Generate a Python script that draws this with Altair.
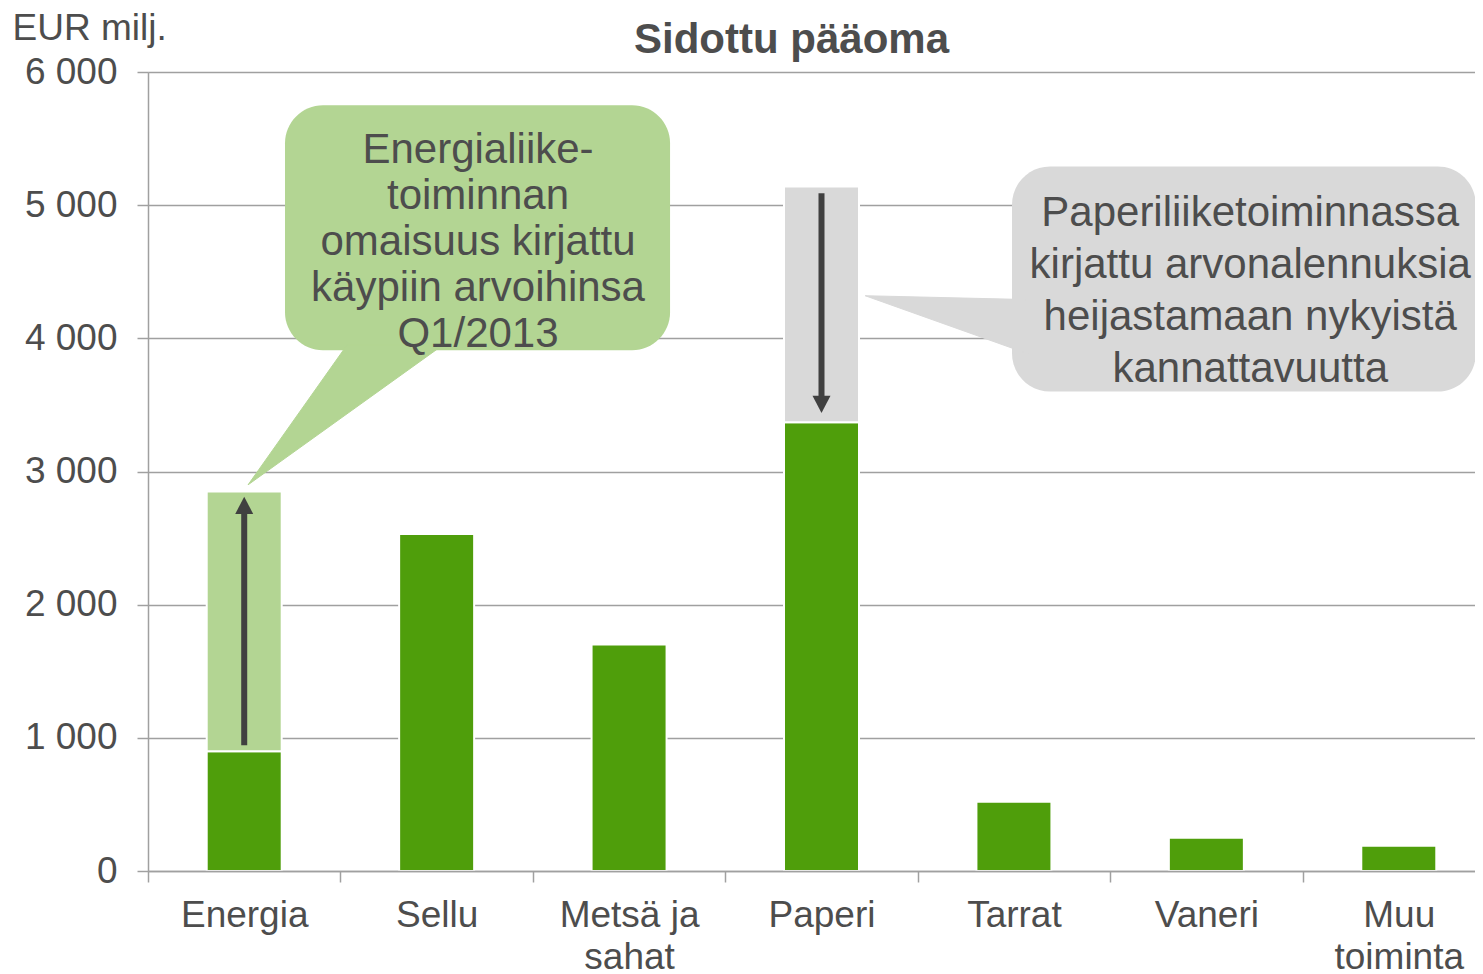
import altair as alt
import pandas as pd

# ---------------- data ----------------
categories = ["Energia", "Sellu", "Metsä ja\nsahat", "Paperi", "Tarrat", "Vaneri", "Muu\ntoiminta"]
base_values = [900, 2530, 1700, 3370, 520, 250, 190]

extra_cats = ["Energia", "Paperi"]
extra_low = [900, 3370]
extra_high = [2850, 5140]
extra_kind = ["uplift", "impairment"]

arrow_cats = ["Energia", "Paperi"]
arrow_from = [945, 5090]
arrow_to = [2810, 3440]
arrow_dir = ["up", "down"]

# callout boxes (x in category-band units 0..7, y in EUR milj.)
green_box_x = [0.712, 2.713]
green_box_y = [3910, 5750]
gray_box_x = [4.49, 6.90]
gray_box_y = [3600, 5290]
green_ptr_x = [0.52, 1.034, 1.533]
green_ptr_y = [2900, 3950, 3950]
gray_ptr_x = [3.727, 4.60, 4.60]
gray_ptr_y = [4320, 4290, 3870]
green_text_pos = [1.715, 5415]
gray_text_pos = [5.728, 4940]
green_lines = ["Energialiike-", "toiminnan", "omaisuus kirjattu", "käypiin arvoihinsa", "Q1/2013"]
gray_lines = ["Paperiliiketoiminnassa", "kirjattu arvonalennuksia", "heijastamaan nykyistä", "kannattavuutta"]

# ---------------- styles ----------------
DARK = "#4F9E0B"
LIGHT = "#B3D593"
GRAY = "#D9D9D9"
ARROW = "#404040"
TEXT = "#4D4D4D"
AXIS = "#A0A0A0"
FONT = "Liberation Sans"

W, H = 1327, 799
RANGE = 1347

bars = pd.DataFrame({
    "cat": categories + extra_cats,
    "low": [0] * len(categories) + extra_low,
    "high": base_values + extra_high,
    "kind": ["base"] * len(categories) + extra_kind,
})

arrows = pd.DataFrame({
    "cat": arrow_cats,
    "start": arrow_from,
    "tip": arrow_to,
    "dir": arrow_dir,
})
arrows["shaft_end"] = [t - 60 if d == "up" else t + 60 for t, d in zip(arrows["tip"], arrows["dir"])]

yscale = alt.Scale(domain=[0, 6000], nice=False, zero=True)
xband = alt.Scale(domain=categories, range=[0, RANGE], paddingInner=0, paddingOuter=0)
xq = alt.Scale(domain=[0, 7], range=[0, RANGE], nice=False, zero=False)

xaxis = alt.Axis(
    title=None, labelAngle=0, labelFont=FONT, labelFontSize=37, labelColor=TEXT,
    labelLineHeight=42, labelPadding=15, tickBand="extent", tickSize=11,
    tickColor=AXIS, tickWidth=1.5, domainColor=AXIS, domainWidth=1.5,
    labelExpr="split(datum.label, '\\n')", zindex=1, grid=False, labelLimit=0,
)
yaxis = alt.Axis(
    values=[0, 1000, 2000, 3000, 4000, 5000, 6000],
    labelExpr="replace(format(datum.value, ','), ',', ' ')",
    labelFont=FONT, labelFontSize=37, labelColor=TEXT, labelPadding=20,
    tickSize=11, tickColor=AXIS, tickWidth=1.5, domainColor=AXIS, domainWidth=1.5,
    grid=True, gridColor=AXIS, gridWidth=1.5,
    title="EUR milj.", titleAngle=0, titleX=-136, titleY=-44, titleAlign="left",
    titleBaseline="middle", titleFontSize=37, titleFontWeight="normal",
    titleColor=TEXT, titleFont=FONT,
)

bar_layer = alt.Chart(bars).mark_bar(width=75, stroke="white", strokeWidth=2).encode(
    x=alt.X("cat:N", sort=categories, scale=xband, axis=xaxis),
    y=alt.Y("low:Q", scale=yscale, axis=yaxis),
    y2="high:Q",
    color=alt.Color("kind:N", scale=alt.Scale(domain=["base", "uplift", "impairment"],
                                              range=[DARK, LIGHT, GRAY]), legend=None),
)

rule_layer = alt.Chart(arrows).mark_rule(color=ARROW, strokeWidth=6).encode(
    x=alt.X("cat:N", sort=categories, scale=xband),
    y=alt.Y("start:Q", scale=yscale),
    y2="shaft_end:Q",
)

UP = "M0,0L-1,1.9L1,1.9Z"
DOWN = "M0,0L-1,-1.9L1,-1.9Z"
head_layer = alt.Chart(arrows).mark_point(filled=True, size=324, opacity=1, color=ARROW).encode(
    x=alt.X("cat:N", sort=categories, scale=xband),
    y=alt.Y("tip:Q", scale=yscale),
    shape=alt.Shape("dir:N", scale=alt.Scale(domain=["up", "down"], range=[UP, DOWN]), legend=None),
)

main = alt.layer(bar_layer, rule_layer, head_layer)

boxes = pd.DataFrame({
    "x": [green_box_x[0], gray_box_x[0]],
    "x2": [green_box_x[1], gray_box_x[1]],
    "y": [green_box_y[0], gray_box_y[0]],
    "y2": [green_box_y[1], gray_box_y[1]],
    "c": [LIGHT, GRAY],
})
box_layer = alt.Chart(boxes).mark_rect(cornerRadius=38).encode(
    x=alt.X("x:Q", scale=xq, axis=None), x2="x2:Q",
    y=alt.Y("y:Q", scale=yscale), y2="y2:Q",
    color=alt.Color("c:N", scale=None),
)

def pointer(xs, ys, col):
    df = pd.DataFrame({"px": xs + [xs[0]], "py": ys + [ys[0]], "o": list(range(len(xs) + 1))})
    return alt.Chart(df).mark_line(fill=col, stroke=col, strokeWidth=1, interpolate="linear").encode(
        x=alt.X("px:Q", scale=xq, axis=None),
        y=alt.Y("py:Q", scale=yscale),
        order="o:Q",
    )

ptr_green = pointer(green_ptr_x, green_ptr_y, LIGHT)
ptr_gray = pointer(gray_ptr_x, gray_ptr_y, GRAY)

def text_block(pos, lines, lh):
    df = pd.DataFrame({"tx": [pos[0]], "ty": [pos[1]]})
    return alt.Chart(df).mark_text(
        text=lines, lineHeight=lh, font=FONT, fontSize=42, color=TEXT,
        align="center", baseline="middle",
    ).encode(
        x=alt.X("tx:Q", scale=xq, axis=None),
        y=alt.Y("ty:Q", scale=yscale),
    )

txt_green = text_block(green_text_pos, green_lines, 46)
txt_gray = text_block(gray_text_pos, gray_lines, 52)

ann = alt.layer(box_layer, ptr_green, ptr_gray, txt_green, txt_gray)

chart = alt.layer(main, ann).resolve_scale(x="independent").properties(
    width=W, height=H,
    autosize=alt.AutoSizeParams(type="none"),
    padding={"left": 140, "top": 64, "right": 0, "bottom": 104},
    title=alt.TitleParams("Sidottu pääoma", font=FONT, fontSize=42, fontWeight="bold",
                          color=TEXT, anchor="middle", frame="group", dx=-20, offset=0,
                          dy=86, baseline="alphabetic"),
).configure_view(stroke=None).configure(background="white")

chart.save("out.html", embed_options={"renderer": "svg", "actions": False})
